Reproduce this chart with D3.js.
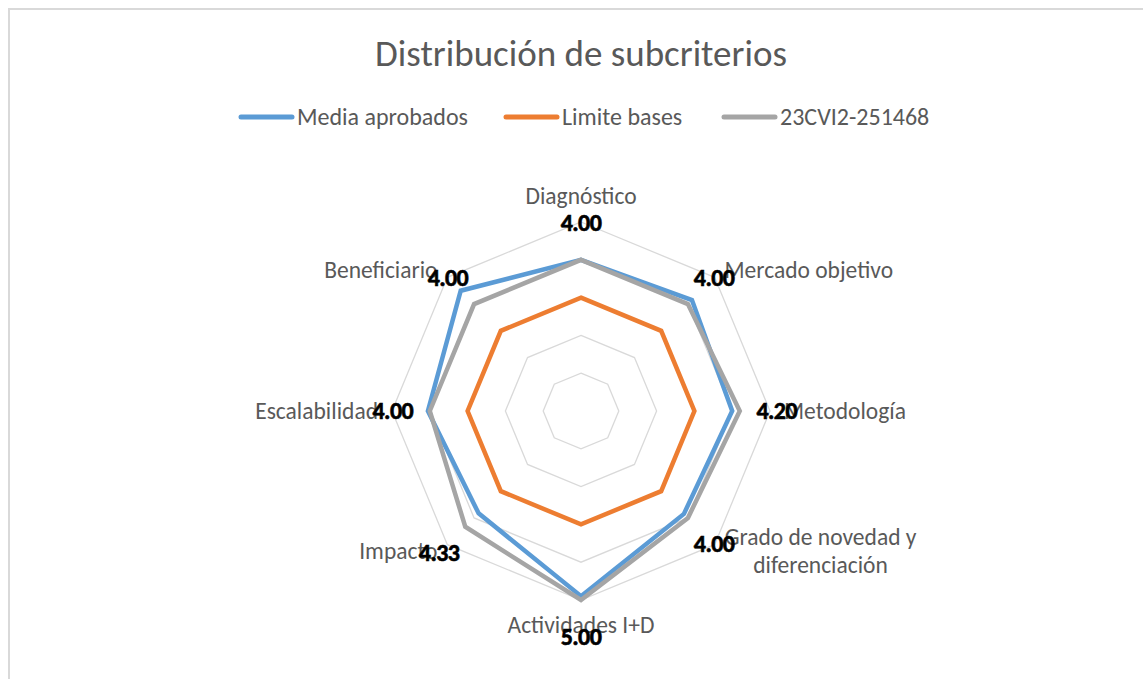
<!DOCTYPE html>
<html>
<head>
<meta charset="utf-8">
<script src="https://cdn.jsdelivr.net/npm/d3@7"></script>
<style>
  body { margin: 0; background: #fff; }
  svg text { font-family: Calibri, Carlito, "Open Sans", sans-serif; }
</style>
</head>
<body>
<div id="radar"></div>
<script>
// categories, clockwise from top
var categories = ["Diagnóstico", "Mercado objetivo", "Metodología", "Grado de novedad y|diferenciación",
                  "Actividades I+D", "Impacto", "Escalabilidad", "Beneficiario"];
var seriesNames = ["Media aprobados", "Limite bases", "23CVI2-251468"];
var mediaAprobados = [4.0, 4.15, 4.0, 3.85, 4.9, 3.83, 4.05, 4.5];
var limiteBases = [3, 3, 3, 3, 3, 3, 3, 3];
var proyecto = [4.0, 4.0, 4.2, 4.0, 5.0, 4.33, 4.0, 4.0];
var ringLevels = [1, 2, 3, 4, 5];

var width = 1143, height = 679,
    cx = 581, cy = 411,
    radius = 189,
    colors = ["#5b9bd5", "#ed7d31", "#a5a5a5"];

var svg = d3.select("#radar").append("svg")
  .attr("width", width)
  .attr("height", height);

// chart border
svg.append("path")
  .attr("d", "M9," + height + "V9H" + width)
  .attr("fill", "none")
  .attr("stroke", "#d9d9d9")
  .attr("stroke-width", 2);

svg.append("text")
  .attr("x", 581).attr("y", 66)
  .attr("text-anchor", "middle")
  .attr("font-size", 37)
  .attr("fill", "#595959")
  .text("Distribución de subcriterios");

// legend
var legendX = [241, 506, 724];
var legend = svg.append("g").selectAll("g")
  .data(seriesNames)
  .enter().append("g")
  .attr("transform", function(d, i) { return "translate(" + legendX[i] + ",117)"; });
legend.append("line")
  .attr("x1", 0).attr("x2", 51)
  .attr("stroke", function(d, i) { return colors[i]; })
  .attr("stroke-width", 5)
  .attr("stroke-linecap", "round");
legend.append("text")
  .attr("x", 56).attr("y", 8)
  .attr("font-size", 24)
  .attr("fill", "#595959")
  .text(function(d) { return d; });

var r = d3.scaleLinear().domain([0, 5]).range([0, radius]);
var angle = d3.scalePoint().domain(d3.range(categories.length + 1)).range([0, 2 * Math.PI]);

var g = svg.append("g").attr("transform", "translate(" + cx + "," + cy + ")");

var ring = d3.lineRadial()
  .angle(function(d, i) { return angle(i); })
  .curve(d3.curveLinearClosed);

g.selectAll(".ring")
  .data(ringLevels)
  .enter().append("path")
  .attr("class", "ring")
  .attr("d", function(lv) { return ring.radius(r(lv))(categories); })
  .attr("fill", "none")
  .attr("stroke", "#d9d9d9")
  .attr("stroke-width", 1.3);

var line = d3.lineRadial()
  .angle(function(d, i) { return angle(i); })
  .radius(function(d) { return r(d); })
  .curve(d3.curveLinearClosed);

g.selectAll(".serie")
  .data([mediaAprobados, limiteBases, proyecto])
  .enter().append("path")
  .attr("class", "serie")
  .attr("d", line)
  .attr("fill", "none")
  .attr("stroke", function(d, i) { return colors[i]; })
  .attr("stroke-width", 4.5)
  .attr("stroke-linejoin", "miter");

// category labels
function px(i, rr) { return rr * Math.sin(angle(i)); }
function py(i, rr) { return -rr * Math.cos(angle(i)); }

var catLabels = g.selectAll(".cat")
  .data(categories)
  .enter().append("text")
  .attr("class", "cat")
  .attr("font-size", 23.5)
  .attr("fill", "#595959")
  .attr("text-anchor", function(d, i) {
    var s = Math.sin(angle(i));
    return s > 0.1 ? "start" : s < -0.1 ? "end" : "middle";
  })
  .attr("x", function(d, i) { return px(i, radius + 14); })
  .attr("y", function(d, i) {
    var c = Math.cos(angle(i));
    if (c > 0.9) return py(i, radius + 14) - 4;
    if (c < -0.9) return py(i, radius + 14) + 19;
    return py(i, radius + 14) + (c > 0.5 ? 11 : c < -0.5 ? 4 : 8);
  });

catLabels.each(function(d, i) {
  var parts = d.split("|"), t = d3.select(this);
  if (parts.length === 1) { t.text(d); return; }
  var x0 = px(i, radius + 14) + 96;
  t.attr("text-anchor", "middle")
    .attr("y", py(i, radius + 14) - 10);
  parts.forEach(function(p, k) {
    t.append("tspan").attr("x", x0).attr("dy", k === 0 ? 0 : 28).text(p);
  });
});

// data labels (23CVI2-251468)
g.selectAll(".val")
  .data(proyecto)
  .enter().append("text")
  .attr("class", "val")
  .attr("text-anchor", "middle")
  .attr("font-size", 24)
  .attr("font-weight", "bold")
  .attr("letter-spacing", -0.6)
  .attr("fill", "#000")
  .attr("stroke", "#000")
  .attr("stroke-width", 0.6)
  .attr("x", function(d, i) { return px(i, r(d) + 37); })
  .attr("y", function(d, i) { return py(i, r(d) + 37) + 8; })
  .text(function(d) { return d.toFixed(2); });
</script>
</body>
</html>
